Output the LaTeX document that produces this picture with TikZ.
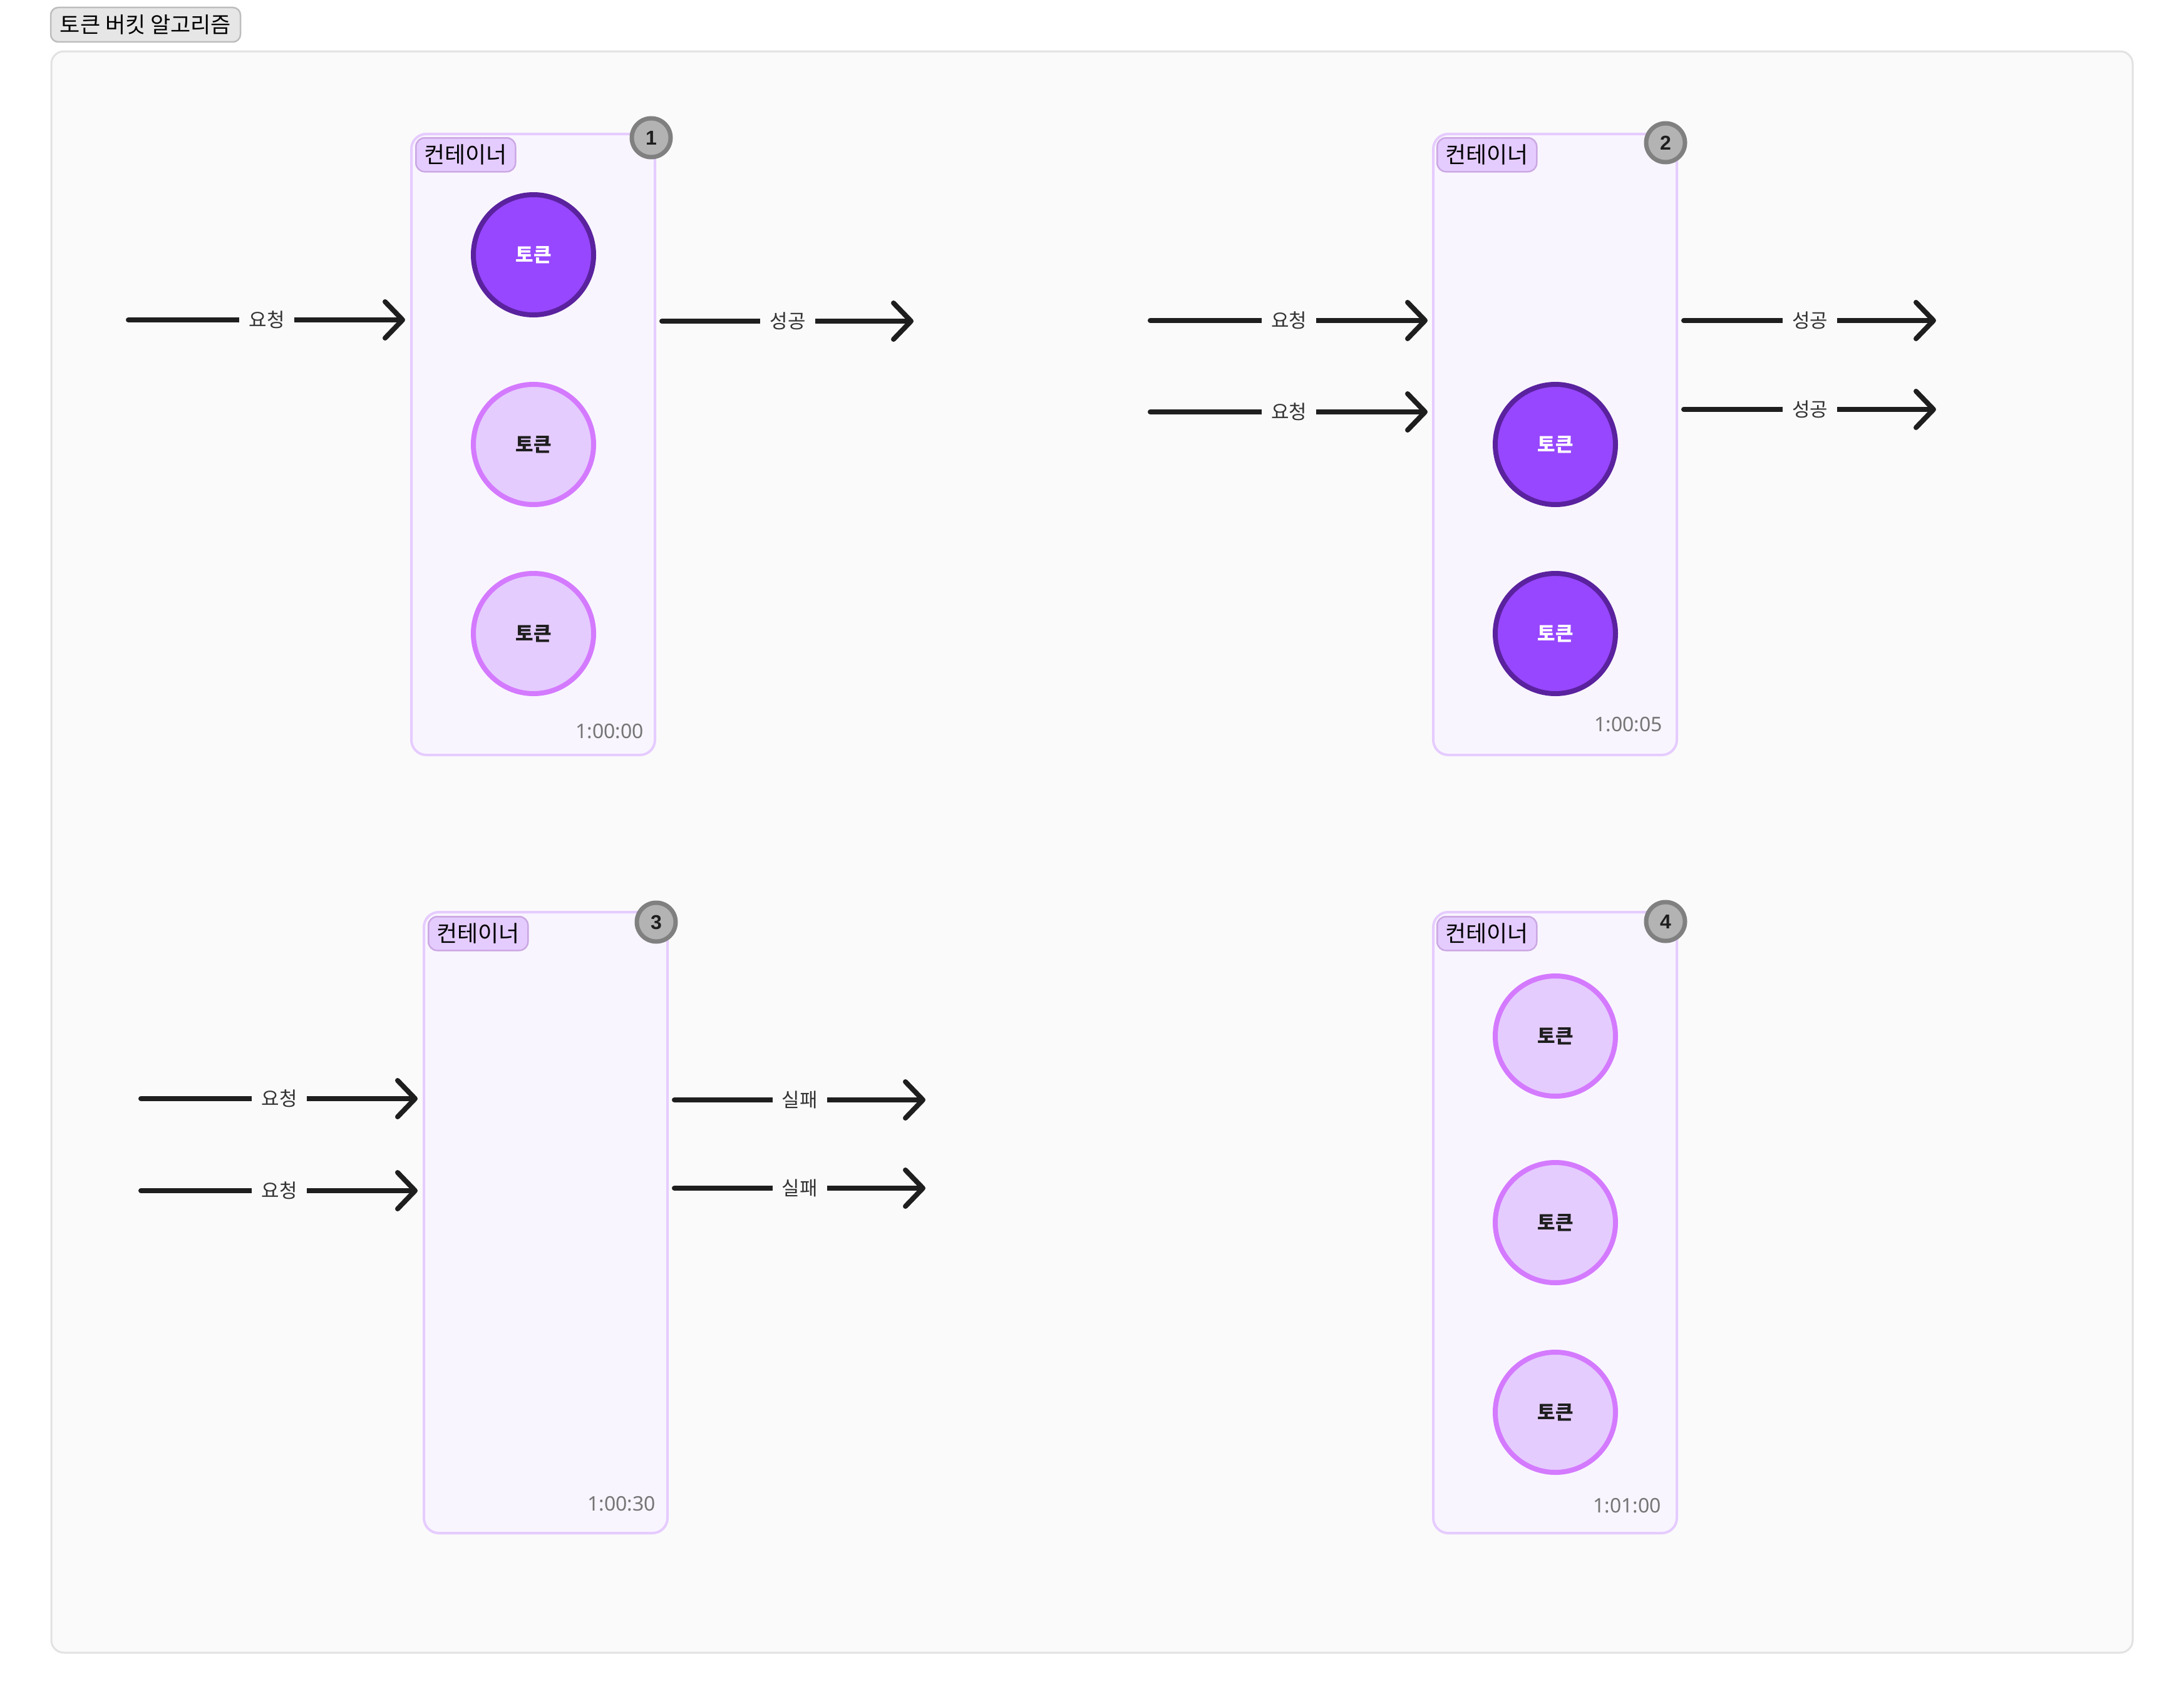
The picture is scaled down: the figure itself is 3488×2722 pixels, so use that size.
\documentclass[tikz,border=0pt]{standalone}
\usepackage{fontspec}
\setmainfont{Noto Sans CJK KR}
\newfontfamily\numfont{Liberation Sans}
\newfontfamily\timefont{Noto Sans}
\usetikzlibrary{arrows.meta}
\definecolor{framebg}{HTML}{FAFAFA}
\definecolor{frameline}{HTML}{E2E2E2}
\definecolor{tagbg}{HTML}{E6E6E6}
\definecolor{tagline}{HTML}{BDBDBD}
\definecolor{contbg}{HTML}{F9F5FF}
\definecolor{contline}{HTML}{E6CCFF}
\definecolor{clabbg}{HTML}{E5CCFF}
\definecolor{clabline}{HTML}{CBA8E3}
\definecolor{darkfill}{HTML}{9747FF}
\definecolor{darkline}{HTML}{5A229E}
\definecolor{lightfill}{HTML}{E5CCFF}
\definecolor{lightline}{HTML}{D47AFF}
\definecolor{badgefill}{HTML}{B3B3B3}
\definecolor{badgeline}{HTML}{808080}
\definecolor{ink}{HTML}{1E1E1E}
\definecolor{lblgray}{HTML}{333333}
\definecolor{timegray}{HTML}{757575}
\begin{document}
\begin{tikzpicture}[x=1pt,y=-1pt,
  frame/.style={draw=frameline, fill=framebg, line width=3pt, rounded corners=20pt, minimum width=3324pt, minimum height=2558pt, inner sep=0pt},
  tag/.style={draw=tagline, fill=tagbg, line width=2.5pt, rounded corners=12pt, minimum width=303pt, minimum height=55pt, inner sep=0pt, font=\fontsize{35pt}{40pt}\selectfont},
  cont/.style={draw=contline, fill=contbg, line width=4pt, rounded corners=24pt, minimum width=389pt, minimum height=992pt, inner sep=0pt},
  clab/.style={draw=clabline, fill=clabbg, line width=2.5pt, rounded corners=14pt, minimum width=159pt, minimum height=54pt, inner sep=0pt, anchor=north west, font=\fontsize{36pt}{40pt}\selectfont},
  darktok/.style={circle, draw=darkline, fill=darkfill, line width=8pt, minimum size=192pt, inner sep=0pt, text=white, font=\fontsize{31pt}{36pt}\selectfont\bfseries},
  lighttok/.style={circle, draw=lightline, fill=lightfill, line width=8pt, minimum size=192pt, inner sep=0pt, text=ink, font=\fontsize{31pt}{36pt}\selectfont\bfseries},
  badge/.style={circle, draw=badgeline, fill=badgefill, line width=7pt, minimum size=62pt, inner sep=0pt, text=ink, font=\numfont\fontsize{32pt}{36pt}\selectfont\bfseries},
  stamp/.style={anchor=east, inner sep=0pt, text=timegray, font=\timefont\fontsize{32pt}{36pt}\selectfont},
  arr/.style={draw=ink, line width=8pt, line cap=round, -{Straight Barb[length=28pt,width=58pt,round]}},
  lbl/.style={fill=framebg, inner xsep=15pt, inner ysep=4pt, text=lblgray, font=\fontsize{31pt}{36pt}\selectfont}
]
\fill[white] (0,0) rectangle (3488,2722);
\useasboundingbox (0,0) rectangle (3488,2722);
\node[frame] (frm) at (1744,1361) {};
\node[tag] (title) at (232.5,39.5) {토큰 버킷 알고리즘};

% containers
\node[cont] (c1) at (851.5,710) {};
\node[cont] (c2) at (2483.5,710) {};
\node[cont] (c3) at (871.5,1953) {};
\node[cont] (c4) at (2483.5,1953) {};

\node[clab] (l1) at (663,219) {컨테이너};
\node[clab] (l2) at (2294,219) {컨테이너};
\node[clab] (l3) at (683,1463) {컨테이너};
\node[clab] (l4) at (2294,1463) {컨테이너};

\node[badge] (b1) at (1040,220) {1};
\node[badge] (b2) at (2660,228) {2};
\node[badge] (b3) at (1048,1473) {3};
\node[badge] (b4) at (2660,1472) {4};

% tokens
\node[darktok] (t11) at (852,407) {토큰};
\node[lighttok] (t12) at (852,710) {토큰};
\node[lighttok] (t13) at (852,1012) {토큰};
\node[darktok] (t22) at (2484,710) {토큰};
\node[darktok] (t23) at (2484,1012) {토큰};
\node[lighttok] (t41) at (2484,1655) {토큰};
\node[lighttok] (t42) at (2484,1953) {토큰};
\node[lighttok] (t43) at (2484,2256) {토큰};

% timestamps
\node[stamp] (s1) at (1028,1168) {1:00:00};
\node[stamp] (s2) at (2655,1157) {1:00:05};
\node[stamp] (s3) at (1047,2402) {1:00:30};
\node[stamp] (s4) at (2653,2405) {1:01:00};

% arrow end points
\coordinate (a1s) at (205,511);  \coordinate (a1e) at (647,511);
\coordinate (o1s) at (1057,513); \coordinate (o1e) at (1459,513);
\coordinate (a2s) at (1837,512); \coordinate (a2e) at (2280,512);
\coordinate (a3s) at (1837,658); \coordinate (a3e) at (2280,658);
\coordinate (o2s) at (2689,512); \coordinate (o2e) at (3092,512);
\coordinate (o3s) at (2689,654); \coordinate (o3e) at (3092,654);
\coordinate (a4s) at (225,1755); \coordinate (a4e) at (667,1755);
\coordinate (a5s) at (225,1902); \coordinate (a5e) at (667,1902);
\coordinate (o4s) at (1077,1757); \coordinate (o4e) at (1478,1757);
\coordinate (o5s) at (1077,1898); \coordinate (o5e) at (1478,1898);

\draw[arr] (a1s) -- node[lbl] (la1) {요청} (a1e);
\draw[arr] (o1s) -- node[lbl] (lo1) {성공} (o1e);
\draw[arr] (a2s) -- node[lbl] (la2) {요청} (a2e);
\draw[arr] (a3s) -- node[lbl] (la3) {요청} (a3e);
\draw[arr] (o2s) -- node[lbl] (lo2) {성공} (o2e);
\draw[arr] (o3s) -- node[lbl] (lo3) {성공} (o3e);
\draw[arr] (a4s) -- node[lbl] (la4) {요청} (a4e);
\draw[arr] (a5s) -- node[lbl] (la5) {요청} (a5e);
\draw[arr] (o4s) -- node[lbl] (lo4) {실패} (o4e);
\draw[arr] (o5s) -- node[lbl] (lo5) {실패} (o5e);
\end{tikzpicture}
\end{document}
